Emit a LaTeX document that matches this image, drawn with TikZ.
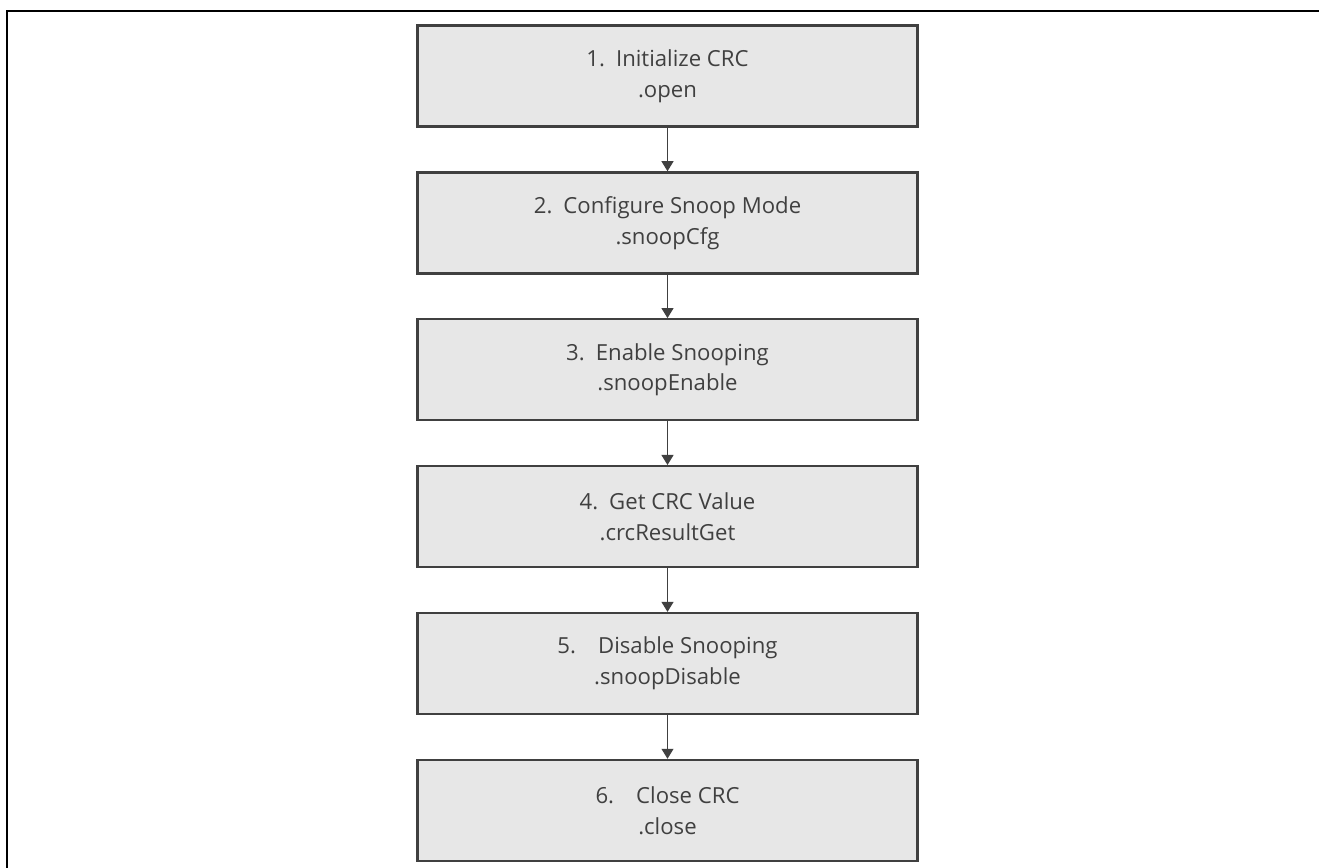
\documentclass[tikz,border=0pt]{standalone}
\usepackage{fontspec}
\setmainfont{Open Sans}
\usepackage{xcolor}
\usepackage{tikz}
\usetikzlibrary{arrows.meta,positioning}
\definecolor{boxgray}{RGB}{231,231,231}
\definecolor{darkline}{RGB}{64,64,64}

\begin{document}
\begin{tikzpicture}[node distance=0.872cm,
    stepbox/.style={rectangle, draw=darkline, line width=1.3pt, fill=boxgray, text=darkline, minimum width=10cm, minimum height=2.02cm, align=center, font=\fontsize{12.6}{17.6}\selectfont},
    arrow/.style={-{Triangle[width=0.24cm, length=0.2cm]}, line width=0.6pt, darkline}]

    \useasboundingbox (0,0) rectangle (26.38,17.36);
    \draw[line width=1.2pt] (0.14,0) -- (0.14,17.14) -- (26.38,17.14);

    \node[stepbox] (init) at (13.35,15.84) {1.\hspace{0.5em}Initialize CRC\\.open};
    \node[stepbox, below=of init] (snoopcfg) {2.\hspace{0.5em}Configure Snoop Mode\\.snoopCfg};
    \node[stepbox, below=of snoopcfg] (enable) {3.\hspace{0.5em}Enable Snooping\\.snoopEnable};
    \node[stepbox, below=of enable] (getval) {4.\hspace{0.5em}Get CRC Value\\.crcResultGet};
    \node[stepbox, below=of getval] (disable) {5.\hspace{1em}Disable Snooping\\.snoopDisable};
    \node[stepbox, below=of disable] (close) {6.\hspace{1em}Close CRC\\.close};

    \draw[arrow] (init) -- (snoopcfg);
    \draw[arrow] (snoopcfg) -- (enable);
    \draw[arrow] (enable) -- (getval);
    \draw[arrow] (getval) -- (disable);
    \draw[arrow] (disable) -- (close);
\end{tikzpicture}
\end{document}
